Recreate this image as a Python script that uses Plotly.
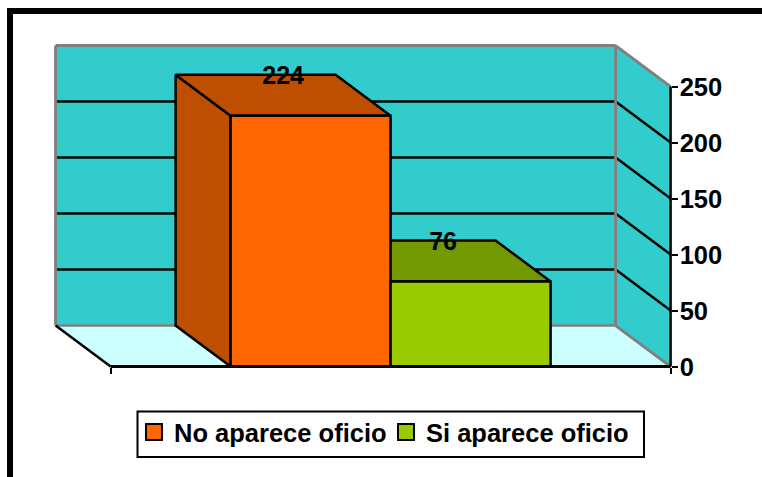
import plotly.graph_objects as go

series_names = ["No aparece oficio", "Si aparece oficio"]
series_values = [224, 76]
front_colors = ["#FF6600", "#99CC00"]
shade_colors = ["#BF4F00", "#739900"]
y_ticks = [0, 50, 100, 150, 200, 250]

W, H = 762, 477
PX_X, PX_Y = 560.0, 1.12          # pixels per category span / per value unit
X0_PX, Y0_PX = 110.6, 366.6       # pixel of x=0, value=0
DX, DY = -55 / PX_X, 41 / PX_Y    # 3D depth offset in data units
Y_MAX = y_ticks[-1]
BAR_W = 1 / 3.5
GAP = (1 - 2 * BAR_W) / 2
FONT = "Liberation Sans"
EDGE = 2.5

x_range = [-X0_PX / PX_X, (W - X0_PX) / PX_X]
y_range = [-(H - Y0_PX) / PX_Y, Y0_PX / PX_Y]

fig = go.Figure()


def poly(xs, ys, fill, line=None, lw=2, layer="below"):
    path = "M" + " L".join(f"{x},{y}" for x, y in zip(xs, ys)) + " Z"
    fig.add_shape(type="path", path=path, xref="x", yref="y", layer=layer,
                  fillcolor=fill, line=dict(color=line or fill, width=lw if line else 0))


def seg(x0, y0, x1, y1, color="black", lw=2, layer="below"):
    fig.add_shape(type="line", x0=x0, y0=y0, x1=x1, y1=y1, xref="x", yref="y",
                  layer=layer, line=dict(color=color, width=lw))


# walls and floor
poly([DX, 1 + DX, 1 + DX, DX], [DY, DY, Y_MAX + DY, Y_MAX + DY], "#33CCCC")
poly([1 + DX, 1, 1, 1 + DX], [DY, 0, Y_MAX, Y_MAX + DY], "#33CCCC")
poly([DX, 1 + DX, 1, 0], [DY, DY, 0, 0], "#CCFFFF")
for t in y_ticks[1:-1]:
    seg(DX, t + DY, 1 + DX, t + DY, lw=2.5)
    seg(1 + DX, t + DY, 1, t, lw=2.5)
GRAY = "#808080"
seg(DX, DY, DX, Y_MAX + DY, GRAY, 3)
seg(DX, Y_MAX + DY, 1 + DX, Y_MAX + DY, GRAY, 3)
seg(1 + DX, Y_MAX + DY, 1 + DX, DY, GRAY, 3)
seg(DX, DY, 1 + DX, DY, GRAY, 2.5)
seg(1 + DX, Y_MAX + DY, 1, Y_MAX, GRAY, 3)
seg(1 + DX, DY, 1, 0, GRAY, 3)
seg(DX, DY, 0, 0, "black", EDGE)

# bars: depth faces (scatter), front faces (bars on overlay axes so they cover the faces)
for i, (name, v) in enumerate(zip(series_names, series_values)):
    x0 = GAP + i * BAR_W
    x1 = x0 + BAR_W
    fig.add_trace(go.Scatter(
        x=[x0, x0 + DX, x0 + DX, x0, x0], y=[0, DY, v + DY, v, 0],
        mode="lines", fill="toself", fillcolor=shade_colors[i],
        line=dict(color="black", width=EDGE), showlegend=False, hoverinfo="skip"))
    fig.add_trace(go.Scatter(
        x=[x0, x0 + DX, x1 + DX, x1, x0], y=[v, v + DY, v + DY, v, v],
        mode="lines", fill="toself", fillcolor=shade_colors[i],
        line=dict(color="black", width=EDGE), showlegend=False, hoverinfo="skip"))

for i, (name, v) in enumerate(zip(series_names, series_values)):
    x0 = GAP + i * BAR_W
    fig.add_trace(go.Bar(
        x=[x0 + BAR_W / 2], y=[v], width=[BAR_W], xaxis="x2", yaxis="y2",
        marker=dict(color=front_colors[i], line=dict(color="black", width=EDGE)),
        showlegend=False))

# value labels
for i, v in enumerate(series_values):
    x0 = GAP + i * BAR_W
    fig.add_trace(go.Scatter(
        x=[x0 + BAR_W / 2 + DX / 2], y=[v + DY - 3 / PX_Y], mode="text", text=[str(v)],
        textposition="middle center", xaxis="x2", yaxis="y2",
        textfont=dict(family=FONT, size=25, color="black", weight=700),
        showlegend=False, hoverinfo="skip"))

# legend entries
for i, name in enumerate(series_names):
    fig.add_trace(go.Scatter(
        x=[None], y=[None], mode="markers", name=name,
        marker=dict(symbol="square", size=16, color=front_colors[i],
                    line=dict(color="black", width=2))))

# axis lines
seg(0, 0, 1, 0, "black", 3, "above")
seg(1, 0, 1, Y_MAX, "black", 2.5, "above")

# frame and legend box
fig.add_shape(type="rect", xref="paper", yref="paper",
              x0=7 / W, x1=13 / W, y0=0, y1=1 - 8 / H, layer="above",
              fillcolor="black", line=dict(width=0))
fig.add_shape(type="rect", xref="paper", yref="paper",
              x0=7 / W, x1=1, y0=1 - 14 / H, y1=1 - 8 / H, layer="above",
              fillcolor="black", line=dict(width=0))
fig.add_shape(type="rect", xref="paper", yref="paper",
              x0=137.5 / W, x1=644 / W, y0=1 - 457 / H, y1=1 - 411.5 / H, layer="below",
              fillcolor="white", line=dict(color="black", width=2))

fig.update_layout(
    width=W, height=H, margin=dict(l=0, r=0, t=0, b=0),
    paper_bgcolor="white", plot_bgcolor="rgba(0,0,0,0)",
    barmode="overlay", autosize=False,
    legend=dict(orientation="h", x=134 / W, y=1 - 432.5 / H, xanchor="left", yanchor="middle",
                bgcolor="rgba(0,0,0,0)", borderwidth=0, itemsizing="trace",
                entrywidth=207, entrywidthmode="pixels",
                font=dict(family=FONT, size=25.5, color="black", weight=700)),
    xaxis=dict(domain=[0, 1], range=x_range, showgrid=False, zeroline=False, showline=False,
               anchor="free", position=(H - Y0_PX) / H, tickvals=[0, 1], ticks="outside",
               ticklen=6, tickwidth=2, tickcolor="black", showticklabels=False),
    yaxis=dict(domain=[0, 1], range=y_range, showgrid=False, zeroline=False, showline=False,
               anchor="free", position=(X0_PX + PX_X) / W, side="right", tickvals=y_ticks,
               ticks="outside", ticklen=6, tickwidth=2, tickcolor="black",
               ticklabelstandoff=-3,
               tickfont=dict(family=FONT, size=25.5, color="black", weight=700)),
    xaxis2=dict(overlaying="x", range=x_range, visible=False),
    yaxis2=dict(overlaying="y", range=y_range, visible=False),
)

fig.write_html("out.html", config={"displayModeBar": False},
               post_script="document.body.style.margin='0';")
